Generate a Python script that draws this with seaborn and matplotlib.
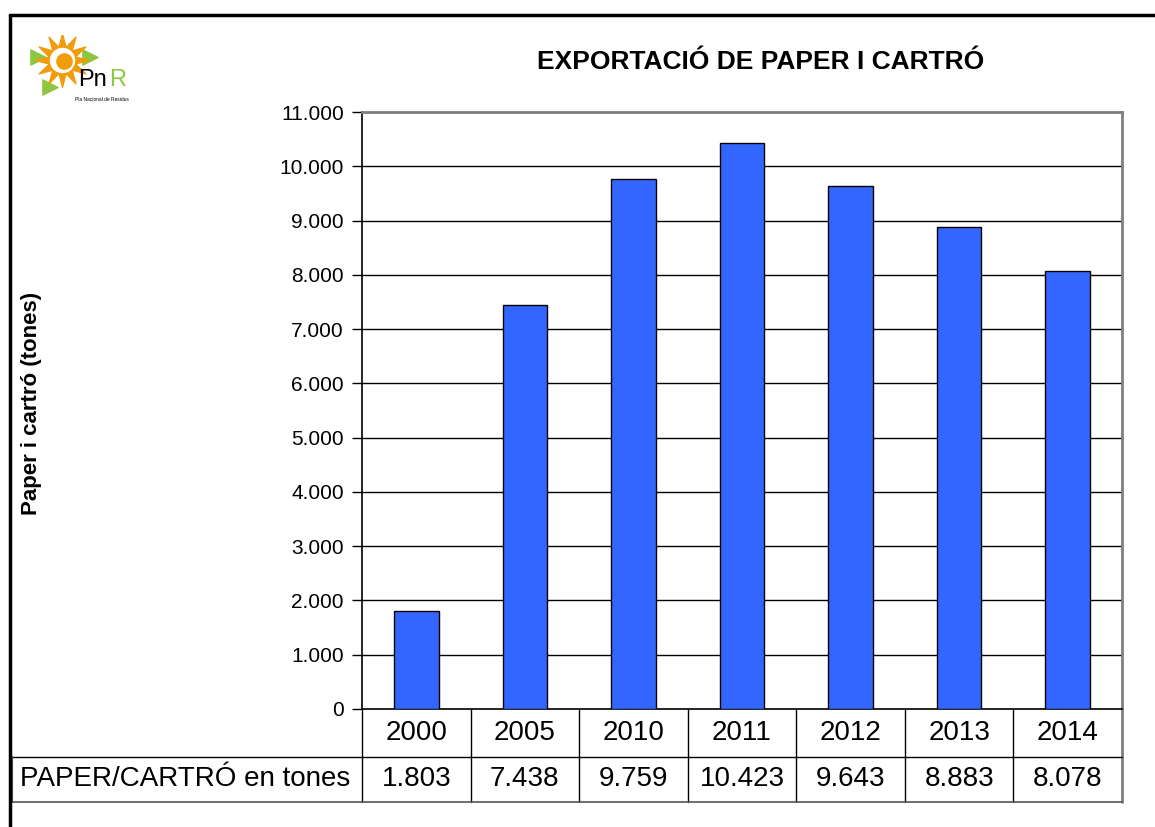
import matplotlib.pyplot as plt
import matplotlib.transforms as mtransforms
from matplotlib.lines import Line2D
import seaborn as sns
import numpy as np
import pandas as pd

# dades
anys = ["2000", "2005", "2010", "2011", "2012", "2013", "2014"]
tones = [1803, 7438, 9759, 10423, 9643, 8883, 8078]
etiquetes_valors = ["1.803", "7.438", "9.759", "10.423", "9.643", "8.883", "8.078"]
yticks = list(range(0, 11001, 1000))
ytick_labels = ["0", "1.000", "2.000", "3.000", "4.000", "5.000", "6.000",
                "7.000", "8.000", "9.000", "10.000", "11.000"]

sns.set_theme(style="white")
plt.rcParams['font.family'] = ['Liberation Sans', 'DejaVu Sans']
plt.rcParams['text.color'] = 'black'
plt.rcParams['axes.labelcolor'] = 'black'
plt.rcParams['ytick.color'] = 'black'
plt.rcParams['xtick.color'] = 'black'

df = pd.DataFrame({"any": anys, "tones": tones})

fig = plt.figure(figsize=(11.55, 8.27), dpi=100)
ax = fig.add_axes([362 / 1155, 1 - 709 / 827, 760 / 1155, 597 / 827])

sns.barplot(data=df, x="any", y="tones", color="#3366FF", width=0.41,
            edgecolor="black", linewidth=1.0, saturation=1, ax=ax, zorder=3)

ax.set_ylim(0, 11000)
ax.set_xlim(-0.5, len(anys) - 0.5)
ax.set_yticks(yticks)
ax.set_yticklabels(ytick_labels, fontsize=15)
ax.set_xticks([])
ax.set_xlabel("")
ax.set_ylabel("")
ax.tick_params(axis="y", direction="out", length=7, width=1, color="black", pad=6, left=True)
for y in yticks[1:]:
    ax.axhline(y, color="black", linewidth=1.0, zorder=1)

for s in ["left", "bottom"]:
    ax.spines[s].set_color("black")
    ax.spines[s].set_linewidth(1.2)
for s in ["top", "right"]:
    ax.spines[s].set_color("#808080")
    ax.spines[s].set_linewidth(2)

# taula de dades sota el grafic
tr = mtransforms.blended_transform_factory(ax.transData, ax.transAxes)
row1 = -48 / 597
row2 = -93 / 597
left_x = -350 / 760
for k in range(len(anys)):
    ax.add_line(Line2D([k - 0.5, k - 0.5], [0, row2], transform=tr, color="black",
                       linewidth=1.0, clip_on=False))
    ax.text(k, row1 / 2, anys[k], transform=tr, ha="center", va="center", fontsize=20)
    ax.text(k, (row1 + row2) / 2, etiquetes_valors[k], transform=tr, ha="center",
            va="center", fontsize=20)
ax.add_line(Line2D([6.5, 6.5], [0, row2], transform=tr, color="#808080",
                   linewidth=2, clip_on=False))
ax.add_line(Line2D([left_x, 1], [row1, row1], transform=ax.transAxes, color="black",
                   linewidth=1.0, clip_on=False))
ax.add_line(Line2D([left_x, 1], [row2, row2], transform=ax.transAxes, color="#555555",
                   linewidth=1.2, clip_on=False))
ax.add_line(Line2D([left_x, left_x], [row1, row2], transform=ax.transAxes, color="#555555",
                   linewidth=1.5, clip_on=False))
ax.text(left_x + 8 / 760, (row1 + row2) / 2, "PAPER/CARTRÓ en tones", transform=ax.transAxes,
        ha="left", va="center", fontsize=20)

# titols
fig.text(761 / 1155, 1 - 62 / 827, "EXPORTACIÓ DE PAPER I CARTRÓ", ha="center", va="center",
         fontsize=19, fontweight="bold")
fig.text(32 / 1155, 1 - 403 / 827, "Paper i cartró (tones)", ha="center", va="center",
         rotation=90, fontsize=16, fontweight="bold")

# marc exterior
fig.add_artist(Line2D([10 / 1155, 1], [1 - 15 / 827, 1 - 15 / 827], color="black", linewidth=2.5))
fig.add_artist(Line2D([10 / 1155, 10 / 1155], [0, 1 - 15 / 827], color="black", linewidth=2.5))

# logotip (aproximat)
lg = fig.add_axes([30 / 1155, 1 - 105 / 827, 120 / 1155, 70 / 827])
lg.set_xlim(0, 12)
lg.set_ylim(0, 7)
lg.axis("off")
lg.scatter([3.2], [4.5], s=1500, marker=(12, 1, 0), color="#F29B0C", zorder=2)
lg.scatter([3.2], [4.5], s=300, marker="o", color="white", zorder=3)
lg.scatter([3.4], [4.4], s=120, marker="o", color="#F29B0C", zorder=4)
lg.scatter([0.8, 6.0, 2.0], [4.8, 4.8, 1.8], s=120, marker=">", color="#8DC63F", zorder=1)
lg.text(4.8, 1.4, "Pn", fontsize=17, color="black", ha="left", va="bottom")
lg.text(7.9, 1.4, "R", fontsize=17, color="#8DC63F", ha="left", va="bottom")
lg.text(4.5, 0.3, "Pla Nacional de Residus", fontsize=3.5, color="black", ha="left", va="bottom")

fig.savefig("out.png", dpi=100, facecolor="white")
